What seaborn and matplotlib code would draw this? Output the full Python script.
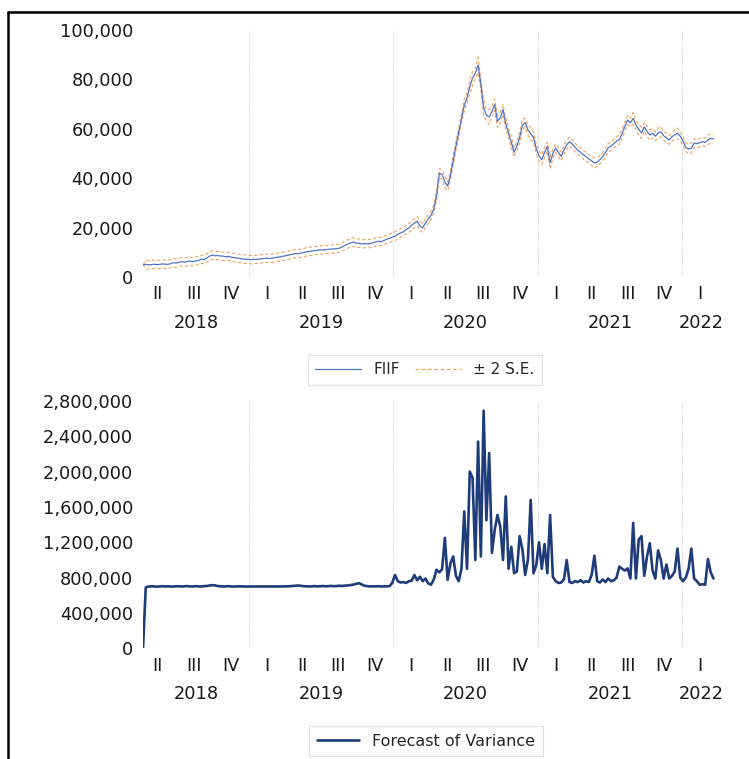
import numpy as np
import pandas as pd
import matplotlib
matplotlib.use("Agg")
import matplotlib.pyplot as plt
import matplotlib.dates as mdates
import seaborn as sns
from matplotlib.lines import Line2D
from matplotlib.ticker import FuncFormatter, MultipleLocator

start_date = "2018-04-09"

fiif = [
    5000, 5100, 4900, 5000, 5200, 5000, 5100, 5300, 5200, 5100,
    5400, 5800, 5600, 6000, 6200, 6000, 6300, 6400, 6200, 6500,
    6700, 7200, 7000, 7600, 8400, 8900, 8600, 8700, 8500, 8400,
    8200, 8300, 8000, 7800, 7700, 7500, 7300, 7200, 7100, 7000,
    7200, 7100, 7300, 7400, 7500, 7600, 7500, 7700, 7900, 8100,
    8300, 8500, 8700, 9000, 9200, 9500, 9400, 9700, 9900, 10200,
    10300, 10500, 10700, 10800, 11000, 10900, 11100, 11200, 11300, 11400,
    11500, 11700, 12200, 12800, 13400, 13800, 14200, 13600, 13700, 13400,
    13500, 13400, 13600, 13800, 14200, 14500, 14300, 14800, 15300, 15600,
    16200, 16500, 17300, 17800, 18300, 19200, 19800, 21000, 21800, 22600,
    20600, 19900, 21800, 23500, 25000, 27500, 33000, 42000, 41500, 38500,
    36800, 41000, 47000, 53000, 58500, 64000, 69500, 72500, 77000, 80500,
    82500, 85800, 78000, 68500, 65500, 64800, 67000, 69800, 63000, 64500,
    67800, 62000, 58300, 54500, 50500, 53000, 56500, 61500, 62500, 59500,
    58000, 56500, 52000, 49000, 47500, 50500, 52800, 46200, 50000, 52200,
    50500, 48800, 51500, 53500, 54800, 53800, 52500, 51300, 50500, 49500,
    48700, 47800, 47000, 46200, 46500, 47500, 48700, 50500, 52300, 53000,
    54000, 55000, 55600, 58000, 61000, 63500, 62500, 64200, 61500, 59800,
    58300, 60800, 59000, 57500, 58200, 57000, 58300, 58800, 57200, 56300,
    55500, 56800, 57500, 58200, 57000, 55000, 52500, 51800, 52100, 54200,
    54000, 54300, 54800, 54500, 55500, 56100, 56000,
]

# forecast of variance, in thousands
variance_k = [
    0, 690, 700, 702, 700, 698, 701, 703, 700, 702,
    699, 700, 703, 701, 700, 702, 704, 701, 700, 703,
    702, 700, 704, 706, 710, 716, 712, 705, 702, 700,
    701, 703, 700, 699, 700, 702, 700, 699, 700, 700,
    700, 699, 700, 701, 700, 700, 699, 700, 701, 700,
    700, 702, 701, 703, 705, 708, 712, 707, 703, 701,
    700, 702, 704, 701, 703, 705, 702, 704, 706, 703,
    705, 708, 706, 710, 712, 716, 722, 730, 738, 722,
    708, 704, 700, 702, 701, 703, 700, 702, 701, 703,
    740, 830, 760, 745, 750, 740, 760, 765, 830, 770,
    810, 760, 790, 735, 720, 780, 890, 860, 895, 1250,
    775, 960, 1040, 820, 760, 900, 1550, 900, 2000, 1930,
    1000, 2340, 1040, 2690, 1450, 2210, 1080, 1340, 1510, 1380,
    1000, 1720, 900, 1150, 850, 870, 1270, 1120, 830, 1000,
    1680, 850, 940, 1200, 900, 1180, 850, 1510, 810, 760,
    740, 745, 780, 1000, 750, 740, 760, 750, 770, 745,
    760, 750, 830, 1050, 760, 745, 780, 750, 790, 760,
    770, 800, 925, 900, 880, 905, 790, 1420, 790, 1230,
    1270, 820, 1040, 1190, 880, 790, 1110, 1000, 790, 950,
    790, 820, 870, 1130, 800, 760, 800, 900, 1130, 790,
    760, 720, 725, 720, 1010, 860, 790,
]

quarter_names = ["I", "II", "III", "IV"]
years = [2018, 2019, 2020, 2021, 2022]

variance = np.array(variance_k) * 1000.0
dates = pd.date_range(start_date, periods=len(fiif), freq="7D")
se2 = 2 * np.sqrt(variance)
df = pd.DataFrame({
    "date": dates,
    "FIIF": fiif,
    "upper": np.array(fiif) + se2,
    "lower": np.array(fiif) - se2,
    "variance": variance,
})

sns.set_style("white")
plt.rcParams["font.family"] = ["DejaVu Sans"]

W, H = 749, 759
fig = plt.figure(figsize=(W / 100, H / 100), dpi=100)


def axes_px(left, top, right, bottom):
    return fig.add_axes([left / W, 1 - bottom / H, (right - left) / W, (bottom - top) / H])


ax1 = axes_px(143, 30, 720, 277)
ax2 = axes_px(143, 401, 720, 648.3)

blue = "#4F76C0"
orange = "#EFA262"
navy = "#1F3C7A"
dash = (0, (3, 2))

sns.lineplot(data=df, x="date", y="upper", ax=ax1, color=orange, lw=0.8, linestyle=dash)
sns.lineplot(data=df, x="date", y="lower", ax=ax1, color=orange, lw=0.8, linestyle=dash)
sns.lineplot(data=df, x="date", y="FIIF", ax=ax1, color=blue, lw=0.9)
sns.lineplot(data=df, x="date", y="variance", ax=ax2, color=navy, lw=1.9)

x_lo = mdates.date2num(pd.Timestamp(start_date))
x_hi = x_lo + 577 / (144.5 / 365.25)

q_mids = []
q_labels = []
for y in years:
    for q in range(4):
        a = mdates.date2num(pd.Timestamp(y, 3 * q + 1, 1))
        b = mdates.date2num(pd.Timestamp(y + (q == 3), (3 * q + 3) % 12 + 1, 1))
        m = (a + b) / 2
        if x_lo <= m <= x_hi:
            q_mids.append(m)
            q_labels.append(quarter_names[q])

fmt = FuncFormatter(lambda v, p: f"{v:,.0f}")
text_col = "#1a1a1a"

for ax, top, step in [(ax1, 100000, 20000), (ax2, 2800000, 400000)]:
    ax.set_xlim(x_lo, x_hi)
    ax.set_ylim(0, top)
    ax.yaxis.set_major_locator(MultipleLocator(step))
    ax.yaxis.set_major_formatter(fmt)
    ax.set_xticks(q_mids, q_labels)
    ax.tick_params(axis="both", length=0, labelsize=12.8, colors=text_col)
    ax.tick_params(axis="y", pad=7)
    ax.tick_params(axis="x", pad=6)
    ax.set_xlabel("")
    ax.set_ylabel("")
    for s in ax.spines.values():
        s.set_visible(False)
    for y in years[1:]:
        ax.axvline(mdates.date2num(pd.Timestamp(y, 1, 1)), color="#d4d4d4", lw=0.8,
                   linestyle=(0, (1, 1)), zorder=0)
    for y in years:
        a = max(mdates.date2num(pd.Timestamp(y, 1, 1)), x_lo)
        b = min(mdates.date2num(pd.Timestamp(y + 1, 1, 1)), x_hi)
        ax.annotate(str(y), xy=((a + b) / 2, 0), xycoords=("data", "axes fraction"),
                    xytext=(0, -33), textcoords="offset points",
                    ha="center", va="center", fontsize=12.8, color=text_col)

leg1 = fig.legend(
    handles=[Line2D([], [], color=blue, lw=0.9), Line2D([], [], color=orange, lw=0.9, linestyle=dash)],
    labels=["FIIF", "± 2 S.E."], loc="center", bbox_to_anchor=(425 / W, 1 - 370 / H),
    ncol=2, fontsize=11, frameon=True, fancybox=False, edgecolor="#d9d9d9",
    handlelength=3.0, columnspacing=1.0, borderpad=0.5,
)
leg1.get_frame().set_linewidth(0.8)
fig.legend(
    handles=[Line2D([], [], color=navy, lw=1.9)], labels=["Forecast of Variance"],
    loc="center", bbox_to_anchor=(426 / W, 1 - 741 / H), fontsize=11.5,
    frameon=True, fancybox=False, edgecolor="#d9d9d9", handlelength=2.6, borderpad=0.5,
).get_frame().set_linewidth(0.8)

# outer frame (top and left edges)
fig.add_artist(Line2D([8 / W, 1], [1 - 12 / H, 1 - 12 / H], color="black", lw=1.8))
fig.add_artist(Line2D([8 / W, 8 / W], [1 - 12 / H, 0], color="black", lw=1.8))

fig.savefig("out.png", dpi=100)
